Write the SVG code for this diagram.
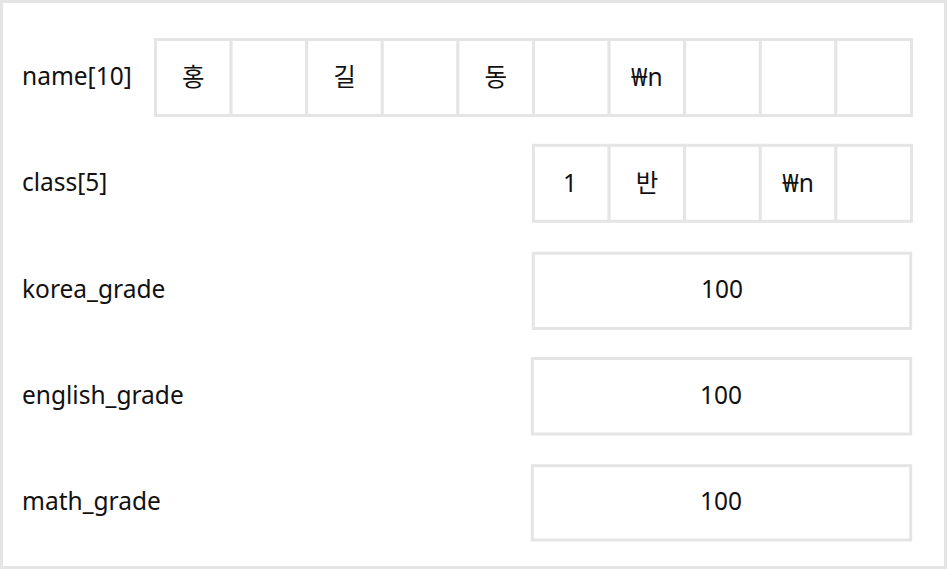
<svg xmlns="http://www.w3.org/2000/svg" width="947" height="569" viewBox="0 0 947 569">
<style>
.frame{fill:#fff;stroke:#e5e5e5;stroke-width:3}
.cell{fill:#fff;stroke:#e5e5e5;stroke-width:3}
.lbl{font-family:"Noto Sans","Noto Sans CJK KR",sans-serif;font-size:24.5px;fill:#111}
.val{font-family:"Noto Sans","Noto Sans CJK KR",sans-serif;font-size:24.5px;fill:#111;text-anchor:middle}
</style>
<rect class="frame" x="1.5" y="1.5" width="944" height="566"/>
<g id="name">
<text class="lbl" x="22" y="85">name[10]</text>
<rect class="cell" x="155.5" y="39.5" width="75.6" height="76"/>
<rect class="cell" x="231.1" y="39.5" width="75.6" height="76"/>
<rect class="cell" x="306.7" y="39.5" width="75.6" height="76"/>
<rect class="cell" x="382.3" y="39.5" width="75.6" height="76"/>
<rect class="cell" x="457.9" y="39.5" width="75.6" height="76"/>
<rect class="cell" x="533.5" y="39.5" width="75.6" height="76"/>
<rect class="cell" x="609.1" y="39.5" width="75.6" height="76"/>
<rect class="cell" x="684.7" y="39.5" width="75.6" height="76"/>
<rect class="cell" x="760.3" y="39.5" width="75.6" height="76"/>
<rect class="cell" x="835.9" y="39.5" width="75.6" height="76"/>
<text class="val" x="193.3" y="86">홍</text>
<text class="val" x="344.5" y="86">길</text>
<text class="val" x="495.7" y="86">동</text>
<text class="val" x="646.9" y="85.5">₩n</text>
</g>
<g id="class">
<text class="lbl" x="22" y="191">class[5]</text>
<rect class="cell" x="533.5" y="145.3" width="75.6" height="76"/>
<rect class="cell" x="609.1" y="145.3" width="75.6" height="76"/>
<rect class="cell" x="684.7" y="145.3" width="75.6" height="76"/>
<rect class="cell" x="760.3" y="145.3" width="75.6" height="76"/>
<rect class="cell" x="835.9" y="145.3" width="75.6" height="76"/>
<text class="val" x="570" y="191.5">1</text>
<text class="val" x="646.9" y="192">반</text>
<text class="val" x="798.1" y="191.5">₩n</text>
</g>
<g id="korea_grade">
<text class="lbl" x="22" y="298">korea_grade</text>
<rect class="cell" x="533.3" y="253.2" width="377.4" height="75.3"/>
<text class="val" x="722" y="298">100</text>
</g>
<g id="english_grade">
<text class="lbl" x="22" y="404">english_grade</text>
<rect class="cell" x="532.3" y="358.5" width="378.4" height="75.5"/>
<text class="val" x="721" y="404">100</text>
</g>
<g id="math_grade">
<text class="lbl" x="22" y="510">math_grade</text>
<rect class="cell" x="532.3" y="465.7" width="378.4" height="74.3"/>
<text class="val" x="721" y="510">100</text>
</g>
<g id="connectors"/>
</svg>
